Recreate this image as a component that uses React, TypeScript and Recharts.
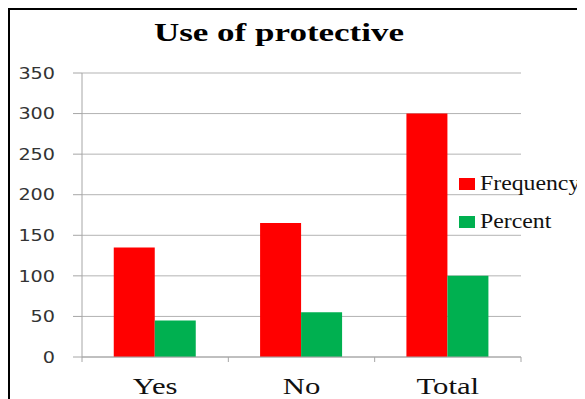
import { BarChart, Bar, XAxis, YAxis, CartesianGrid, Legend } from 'recharts';

const categories = ['Yes', 'No', 'Total'];
const frequency = [135, 165, 300];
const percent = [45, 55, 100];
const yTicks = [0, 50, 100, 150, 200, 250, 300, 350];

const data = categories.map((name, i) => ({
  name,
  Frequency: frequency[i],
  Percent: percent[i],
}));

const SERIF = '"Liberation Serif", "Times New Roman", serif';
const SANS = '"DejaVu Sans", sans-serif';
const CHART_W = 575;
const CHART_H = 389;
const MARGIN = { top: 63, right: 64, bottom: 12, left: 0 };
const Y_W = 72;
const AXIS_GRAY = '#a6a6a6';

function CategoryTick(props: any) {
  const { x, y, payload, index } = props;
  const band = (CHART_W - MARGIN.right - Y_W) / categories.length;
  const left = x - band / 2;
  return (
    <g>
      <line x1={left} y1={y - 8} x2={left} y2={y - 3} stroke={AXIS_GRAY} />
      {index === categories.length - 1 && (
        <line x1={left + band} y1={y - 8} x2={left + band} y2={y - 3} stroke={AXIS_GRAY} />
      )}
      <text
        transform={`translate(${x},${y + 29}) scale(1.28,1)`}
        textAnchor="middle"
        fontSize={24}
        fontFamily={SERIF}
        fill="#111"
      >
        {payload.value}
      </text>
    </g>
  );
}

function ValueTick(props: any) {
  const { x, y, payload } = props;
  return (
    <text
      transform={`translate(${x},${y}) scale(1.2,1)`}
      textAnchor="end"
      dy="0.36em"
      fontSize={16}
      fontFamily={SANS}
      fill="#333"
    >
      {payload.value}
    </text>
  );
}

function LegendBox() {
  const items = [
    { label: 'Frequency', color: '#ff0000' },
    { label: 'Percent', color: '#00b050' },
  ];
  return (
    <div style={{ fontFamily: SERIF, fontSize: 22, color: '#111' }}>
      {items.map((it) => (
        <div key={it.label} style={{ height: 38, lineHeight: '38px', whiteSpace: 'nowrap' }}>
          <span style={{ display: 'inline-block', width: 16, height: 12, background: it.color, marginRight: 5 }} />
          <span style={{ display: 'inline-block', transform: 'scaleX(1.08)', transformOrigin: 'left center' }}>
            {it.label}
          </span>
        </div>
      ))}
    </div>
  );
}

export default function App() {
  return (
    <div
      style={{
        position: 'relative',
        width: 577,
        height: 391,
        borderTop: '2px solid #000',
        borderLeft: '2px solid #000',
        background: '#fff',
        overflow: 'hidden',
      }}
    >
      <div
        style={{
          position: 'absolute',
          left: 0,
          top: 10,
          width: 538,
          textAlign: 'center',
          fontFamily: SERIF,
          fontWeight: 'bold',
          fontSize: 25,
          lineHeight: '25px',
          color: '#000',
          transform: 'scaleX(1.4)',
          transformOrigin: 'center',
        }}
      >
        Use of protective
      </div>
      <BarChart
        width={CHART_W}
        height={CHART_H}
        data={data}
        margin={MARGIN}
        barCategoryGap="21.7%"
        barGap={0}
      >
        <CartesianGrid vertical={false} stroke="#b3b3b3" />
        <XAxis
          dataKey="name"
          height={30}
          tickLine={false}
          axisLine={{ stroke: AXIS_GRAY }}
          tick={<CategoryTick />}
          interval={0}
        />
        <YAxis
          width={Y_W}
          domain={[0, 350]}
          ticks={yTicks}
          axisLine={{ stroke: AXIS_GRAY }}
          tickLine={{ stroke: AXIS_GRAY }}
          tickSize={9}
          tickMargin={18}
          tick={<ValueTick />}
        />
        <Bar dataKey="Frequency" fill="#ff0000" isAnimationActive={false} />
        <Bar dataKey="Percent" fill="#00b050" isAnimationActive={false} />
        <Legend
          layout="vertical"
          align="center"
          verticalAlign="middle"
          content={<LegendBox />}
          wrapperStyle={{ left: 449, top: 154, width: 126, background: 'transparent' }}
        />
      </BarChart>
    </div>
  );
}
